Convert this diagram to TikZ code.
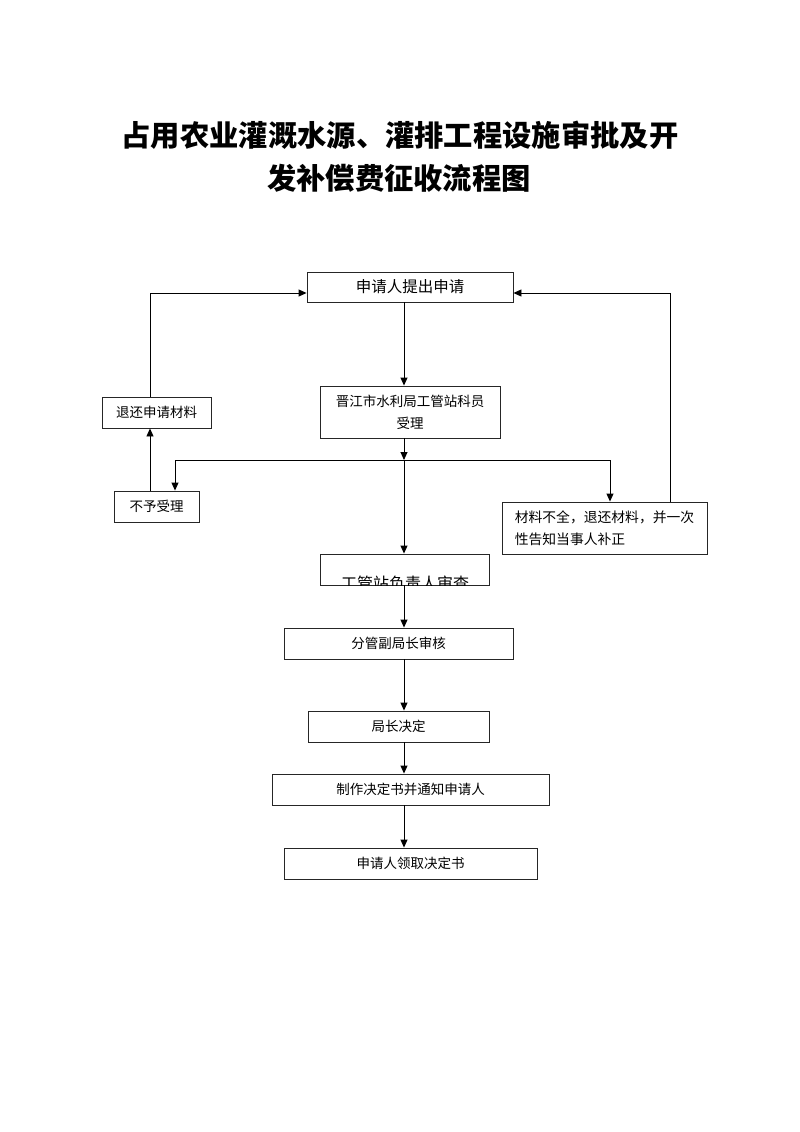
\documentclass[tikz,border=0pt]{standalone}
\usepackage{fontspec}
\setmainfont{Liberation Serif}
\newfontfamily\cjk{Noto Sans CJK SC}
\usetikzlibrary{arrows.meta}
\begin{document}
\begin{tikzpicture}[x=1pt,y=-1pt,
  box/.style={draw=black!85, line width=0.9pt, inner sep=0pt, align=center,
    font=\cjk\fontsize{13.5}{22}\selectfont},
  conn/.style={line width=0.9pt, -{Triangle[length=8pt,width=7pt]}},
  plain/.style={line width=0.9pt}]
\useasboundingbox (0,0) rectangle (800,1132);
% title
\node[font=\cjk\bfseries\fontsize{29.3}{40}\selectfont] (t1) at (400,135) {占用农业灌溉水源、灌排工程设施审批及开};
\node[font=\cjk\bfseries\fontsize{29.3}{40}\selectfont] (t2) at (399,178) {发补偿费征收流程图};
% boxes
\node[box, minimum width=206, minimum height=30, font=\cjk\fontsize{15.5}{20}\selectfont] (a) at (410,287) {申请人提出申请};
\node[box, minimum width=180, minimum height=52] (b) at (410,412) {晋江市水利局工管站科员\\受理};
\node[box, minimum width=109, minimum height=31] (r) at (156.5,412.5) {退还申请材料};
\node[box, minimum width=85, minimum height=31] (n) at (156.5,506.5) {不予受理};
\node[box, minimum width=205, minimum height=52, align=left, font=\cjk\fontsize{13.8}{22}\selectfont] (m) at (604.5,528) {材料不全，退还材料，并一次\\性告知当事人补正};
\node[box, minimum width=169, minimum height=31] (g) at (404.5,569.5) {};
\begin{scope}
\clip (g.north west) rectangle (g.south east);
\node[font=\cjk\fontsize{16}{20}\selectfont] (gt) at (405,583) {工管站负责人审查};
\end{scope}
\node[box, minimum width=229, minimum height=31] (f) at (398.5,643.5) {分管副局长审核};
\node[box, minimum width=181, minimum height=31] (j) at (398.5,726.5) {局长决定};
\node[box, minimum width=277, minimum height=31] (z) at (410.5,789.5) {制作决定书并通知申请人};
\node[box, minimum width=253, minimum height=31] (l) at (410.5,863.5) {申请人领取决定书};
% junction coordinates
\coordinate (jc) at (404,460);
\coordinate (jl) at (175,460);
\coordinate (jr) at (610,460);
\coordinate (ll) at (150,293);
\coordinate (rr) at (670,293);
% connectors
\draw[conn] (a.south -| jc) -- (b.north -| jc);
\draw[conn] (b.south -| jc) -- (jc);
\draw[plain] (jl) -- (jr);
\draw[conn] (jl) -- (n.north -| jl);
\draw[conn] (jr) -- (m.north -| jr);
\draw[conn] (jc) -- (g.north -| jc);
\draw[conn] (n.north -| ll) -- (r.south -| ll);
\draw[conn] (r.north -| ll) -- (ll) -- (a.west |- ll);
\draw[conn] (m.north -| rr) -- (rr) -- (a.east |- rr);
\draw[conn] (g.south -| jc) -- (f.north -| jc);
\draw[conn] (f.south -| jc) -- (j.north -| jc);
\draw[conn] (j.south -| jc) -- (z.north -| jc);
\draw[conn] (z.south -| jc) -- (l.north -| jc);
\end{tikzpicture}
\end{document}
